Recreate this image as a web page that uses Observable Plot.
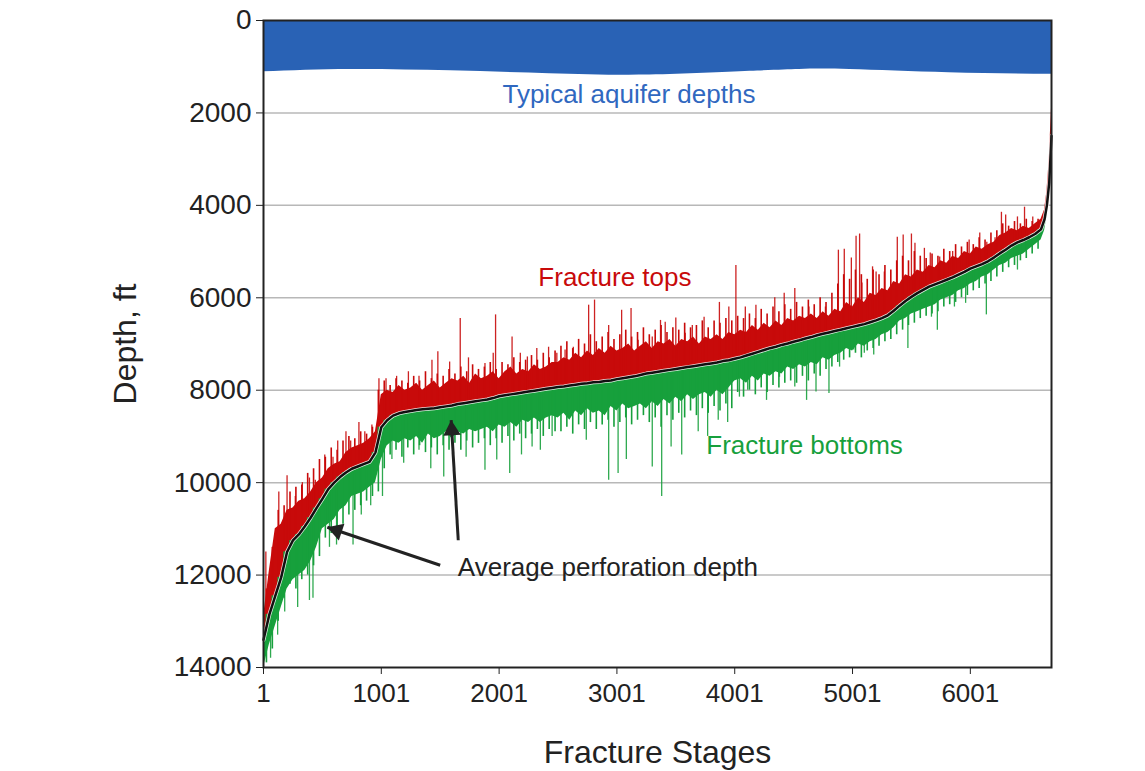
<!DOCTYPE html>
<html><head><meta charset="utf-8">
<script src="https://cdn.jsdelivr.net/npm/d3@7"></script>
<script src="https://cdn.jsdelivr.net/npm/@observablehq/plot@0.6"></script>
<style>body{margin:0;background:#fff;} #chart svg{display:block;}</style>
</head><body><div id="chart"></div>
<script>
// ---- Data ----
const stages = [
  1,51,101,151,201,251,301,351,401,451,501,551,601,651,701,751,801,851,901,951,
  1001,1051,1101,1151,1201,1251,1301,1351,1401,1451,1501,1551,1601,1651,1701,1751,1801,1851,1901,1951,
  2001,2051,2101,2151,2201,2251,2301,2351,2401,2451,2501,2551,2601,2651,2701,2751,2801,2851,2901,2951,
  3001,3051,3101,3151,3201,3251,3301,3351,3401,3451,3501,3551,3601,3651,3701,3751,3801,3851,3901,3951,
  4001,4051,4101,4151,4201,4251,4301,4351,4401,4451,4501,4551,4601,4651,4701,4751,4801,4851,4901,4951,
  5001,5051,5101,5151,5201,5251,5301,5351,5401,5451,5501,5551,5601,5651,5701,5751,5801,5851,5901,5951,
  6001,6051,6101,6151,6201,6251,6301,6351,6401,6451,6501,6551,6601,6631,6651,6671,6690
];
const avgDepth = [
  13400,12850,12450,12050,11500,11250,11120,10950,10760,10550,10350,10140,10000,9880,9780,9700,9650,9600,9550,9350,
  8800,8650,8550,8500,8470,8450,8430,8410,8400,8390,8370,8350,8330,8300,8280,8260,8240,8220,8200,8170,
  8130,8110,8090,8070,8050,8030,8010,7990,7970,7950,7930,7920,7900,7880,7860,7850,7830,7820,7800,7790,
  7760,7740,7720,7700,7670,7640,7620,7600,7580,7560,7540,7520,7500,7480,7460,7440,7420,7400,7370,7350,
  7320,7290,7250,7210,7170,7130,7090,7060,7020,6990,6950,6920,6880,6850,6810,6780,6750,6720,6690,6660,
  6630,6600,6570,6530,6490,6440,6380,6280,6170,6070,5980,5900,5830,5760,5710,5660,5610,5560,5500,5440,
  5370,5320,5270,5210,5130,5040,4960,4870,4800,4750,4690,4620,4520,4300,4000,3500,2500
];
const topDepth = [
  12900,11900,11000,10900,10600,10550,10400,10350,10200,10000,9900,9700,9600,9550,9350,9250,9200,9150,9050,8900,
  8100,8000,8050,7900,8000,7950,7850,8000,7900,7800,7950,7850,7750,7800,7700,7850,7650,7750,7700,7600,
  7750,7600,7500,7650,7550,7600,7450,7550,7500,7400,7400,7300,7350,7200,7300,7150,7250,7100,7200,7050,
  7150,7100,7000,7150,7050,6950,7100,6950,7000,6900,7050,6900,6950,6850,7000,6850,6900,6800,6900,6750,
  6800,6700,6750,6600,6700,6550,6650,6500,6600,6450,6500,6400,6450,6350,6450,6300,6400,6250,6300,6100,
  6200,6000,6100,5900,5950,5800,5850,5650,5700,5500,5550,5400,5450,5300,5350,5200,5250,5100,5150,5000,
  5050,4900,4950,4850,4800,4650,4600,4500,4550,4450,4500,4400,4300,4100,3700,3000,1900
];
const bottomDepth = [
  14000,13500,13100,12700,12300,12100,12000,11900,11700,11400,11000,10900,10800,10600,10500,10300,10250,10200,10100,10000,
  9500,9200,9100,9150,9050,9100,9000,9150,8950,9050,9000,8900,9050,8900,8950,8850,8900,8850,8800,8900,
  8750,8800,8700,8800,8650,8700,8600,8700,8600,8550,8600,8500,8650,8450,8550,8400,8500,8450,8550,8350,
  8450,8300,8400,8350,8300,8400,8250,8350,8200,8300,8150,8250,8100,8200,8100,8050,8150,8000,8100,7950,
  7800,7750,7850,7700,7800,7650,7700,7600,7650,7500,7550,7450,7500,7400,7450,7300,7350,7250,7200,7100,
  7150,7000,7050,6950,6900,6800,6750,6650,6500,6450,6350,6300,6250,6200,6150,6050,6000,5950,5850,5800,
  5700,5650,5550,5500,5400,5300,5250,5150,5100,5050,4950,4850,4750,4550,4250,3800,2400
];
// medium spikes between the grid stages
const minorStages = [
  26,76,126,176,226,276,326,376,426,476,526,576,626,676,726,776,826,876,926,976,
  1026,1076,1126,1176,1226,1276,1326,1376,1426,1476,1526,1576,1626,1676,1726,1776,1826,1876,1926,1976,
  2026,2076,2126,2176,2226,2276,2326,2376,2426,2476,2526,2576,2626,2676,2726,2776,2826,2876,2926,2976,
  3026,3076,3126,3176,3226,3276,3326,3376,3426,3476,3526,3576,3626,3676,3726,3776,3826,3876,3926,3976,
  4026,4076,4126,4176,4226,4276,4326,4376,4426,4476,4526,4576,4626,4676,4726,4776,4826,4876,4926,4976,
  5026,5076,5126,5176,5226,5276,5326,5376,5426,5476,5526,5576,5626,5676,5726,5776,5826,5876,5926,5976,
  6026,6076,6126,6176,6226,6276,6326,6376,6426,6476,6526,6576
];
const topMinor = [
  12300,11400,10600,10500,10200,10100,10050,9800,9700,9500,9450,9250,9300,9100,9000,9050,8900,8950,8800,8000,
  7800,7900,7750,7800,7850,7700,7800,7600,7750,7650,7700,7550,7650,7500,7600,7450,7550,7500,7400,7550,
  7400,7450,7300,7400,7350,7250,7350,7200,7300,7150,7050,6950,7100,6900,7000,6800,6950,6850,6750,6900,
  6800,6700,6850,6750,6650,6800,6700,6600,6750,6650,6700,6550,6650,6600,6500,6650,6500,6550,6450,6500,
  6400,6450,6350,6450,6250,6350,6200,6300,6150,6250,6100,6200,6050,6150,6000,6100,5900,5700,5500,5600,
  5400,5500,5600,5400,5500,5300,5400,5200,5100,5200,5000,5100,5150,5050,5100,4950,5000,4850,4900,4800,
  4850,4700,4750,4600,4550,4400,4450,4350,4400,4300,4350,4300
];
const bottomMinor = [
  13900,13600,13000,12500,12200,12300,12100,12000,11800,11600,11200,11100,11000,10900,10700,10600,10500,10400,10300,10200,
  9700,9400,9300,9450,9250,9400,9200,9350,9250,9400,9200,9300,9150,9300,9100,9250,9150,9050,9200,9050,
  9150,9000,9100,8950,9050,8950,8850,9000,8850,8900,8900,8800,8950,8750,8850,8700,8850,8750,8650,8800,
  8700,8600,8750,8650,8550,8700,8600,8800,8550,8650,8500,8600,8450,8550,8400,8500,8350,8450,8300,8400,
  8050,8150,8000,8100,7950,8050,7900,7950,7850,7800,7850,7700,7800,7650,7700,7550,7500,7400,7350,7300,
  7200,7300,7150,7100,7050,6950,6900,6800,6700,6600,6550,6450,6400,6350,6300,6200,6150,6100,6000,5950,
  5850,5800,5700,5650,5550,5450,5350,5300,5200,5150,5050,4950
];
// isolated tall spikes: [stage, depth]
const topSpikes = [
  [21,11500],[71,11700],[131,10200],[201,9850],[271,10300],[331,10000],[391,9900],[441,9950],[521,9400],[591,9450],
  [631,9100],[701,8900],[741,9100],[811,8700],[861,8900],[921,8750],[981,7750],
  [1041,7750],[1131,7700],[1231,7600],[1321,7700],[1431,7350],[1481,7170],[1581,7390],[1671,6450],[1741,7300],
  [1881,7420],[1951,7200],[1971,6370],[2111,6850],[2181,7200],[2241,7280],[2321,7100],[2421,7070],[2491,7200],
  [2561,7130],[2631,7070],[2761,6160],[2811,6050],[2931,6600],[3041,6270],[3121,6230],[3181,6920],[3301,6850],
  [3371,6490],[3411,6530],[3501,6440],[3581,6770],[3641,6600],[3741,6420],[3871,6100],[3951,6200],[4011,5300],
  [4091,6200],[4181,6160],[4341,6000],[4421,5900],[4511,5800],[4631,6200],[4771,6200],[4881,4970],[4931,4950],
  [4991,5140],[5031,4670],[5061,4620],[5081,5680],[5171,5330],[5201,5440],[5271,5440],[5381,4690],[5431,4640],
  [5501,4620],[5531,4820],[5611,4930],[5661,5030],[5741,5120],[5851,5000],[5991,4750],[6081,4600],[6141,4800],
  [6211,4700],[6265,4150],[6301,4210],[6401,4250],[6461,4040],[6531,4250],[6581,4350]
];
const bottomSpikes = [
  [61,13800],[121,13300],[181,12800],[291,12700],[391,12550],[421,12500],[561,11400],[621,11350],[761,11350],
  [831,10700],[911,10500],[1011,10300],[1091,9500],[1191,9580],[1321,9300],[1421,9700],[1531,9880],[1721,9450],
  [1881,9730],[1981,9510],[2091,9800],[2191,9400],[2281,9230],[2351,9300],[2451,9000],[2741,9080],[2931,9950],
  [3011,9800],[3081,9500],[3301,9660],[3381,10300],[3461,9230],[3551,9400],[3691,8900],[3771,9000],[3861,8650],
  [3941,8700],[4041,8150],[4111,8000],[4271,8220],[4381,7720],[4511,7930],[4611,8220],[4691,8040],[4801,8070],
  [4891,7500],[5011,7130],[5101,7200],[5181,7240],[5471,7100],[5671,6420],[5721,6700],[5866,6200],[5961,6120],
  [6137,6370],[6401,5400],[6476,5030]
];
const aquiferStages = [1,740,1590,2430,3280,4130,4550,4980,5820,6690];
const aquiferBottom = [1110,1060,1090,1150,1180,1100,1060,1060,1130,1165];
const xTicks = [1,1001,2001,3001,4001,5001,6001];
const yTicks = [0,2000,4000,6000,8000,10000,12000,14000];
const labelTexts = ["Typical aquifer depths","Fracture tops","Fracture bottoms","Average perforation depth"];
const labelStages = [3103,2984,4594,2925];
const labelDepths = [1613,5575,9190,11830];
const arrowFromStages = [1501,1654];
const arrowFromDepths = [11788,11247];
const arrowToStages = [543,1594];
const arrowToDepths = [10966,8649];

// ---- Layout ----
const W = 1145, H = 771, mT = 20, mB = 104, mL = 263, mR = 94;
const xDomain = [1, 6690], yDomain = [0, 14000];

// ---- Build tables ----
const rows = stages.map((s,i)=>({stage:s, avg:avgDepth[i], top:topDepth[i], bottom:bottomDepth[i]}));
const bis = d3.bisector(d=>d.stage).center;
const avgAt = s => rows[bis(rows, s)].avg;
const topSp = topSpikes.map(([s,d])=>({stage:s, depth:d, base:avgAt(s)}));
const botSp = bottomSpikes.map(([s,d])=>({stage:s, depth:d, base:avgAt(s)}));
const topMin = minorStages.map((s,i)=>({stage:s, depth:topMinor[i], base:avgAt(s)}));
const botMin = minorStages.map((s,i)=>({stage:s, depth:bottomMinor[i], base:avgAt(s)}));
const aquifer = aquiferStages.map((s,i)=>({stage:s, depth:aquiferBottom[i]}));
const labels = labelTexts.map((t,i)=>({text:t, stage:labelStages[i], depth:labelDepths[i]}));
const arrows = arrowFromStages.map((s,i)=>({x1:s, y1:arrowFromDepths[i], x2:arrowToStages[i], y2:arrowToDepths[i]}));

// arrow-head orientation in screen space (same scales as the plot)
const xs = d3.scaleLinear(xDomain, [mL, W - mR]);
const ys = d3.scaleLinear(yDomain, [mT, H - mB]);
const HEAD_R = 6.5, TIP = 10;
arrows.forEach(a => {
  const dx = xs(a.x2) - xs(a.x1), dy = ys(a.y2) - ys(a.y1), L = Math.hypot(dx, dy);
  a.angle = Math.atan2(dx, -dy) * 180 / Math.PI;
  a.ox = -dx / L * TIP; a.oy = -dy / L * TIP;
});

const RED = "#c80a0a", GREEN = "#17a03c", BLUE = "#2962b5", INK = "#222";
const font = "'Liberation Sans', Arial, Helvetica, sans-serif";

const chart = Plot.plot({
  width: W, height: H,
  marginTop: mT, marginBottom: mB, marginLeft: mL, marginRight: mR,
  style: {fontFamily: font, background: "#fff", color: INK},
  x: {domain: xDomain, label: null},
  y: {domain: yDomain, reverse: true, label: null},
  marks: [
    Plot.gridY(yTicks.slice(1, -1), {stroke: "#b8b8b8", strokeOpacity: 1, strokeWidth: 1.5}),
    Plot.areaY(aquifer, {x: "stage", y1: 0, y2: "depth", fill: BLUE, curve: "natural"}),
    Plot.areaY(rows, {x: "stage", y1: "top", y2: "avg", fill: RED}),
    Plot.ruleX(topMin, {x: "stage", y1: "depth", y2: "base", stroke: RED, strokeWidth: 1.6}),
    Plot.ruleX(topSp, {x: "stage", y1: "depth", y2: "base", stroke: RED, strokeWidth: 1.3, strokeOpacity: 0.9}),
    Plot.areaY(rows, {x: "stage", y1: "avg", y2: "bottom", fill: GREEN}),
    Plot.ruleX(botMin, {x: "stage", y1: "base", y2: "depth", stroke: GREEN, strokeWidth: 1.6}),
    Plot.ruleX(botSp, {x: "stage", y1: "base", y2: "depth", stroke: GREEN, strokeWidth: 1.3, strokeOpacity: 0.9}),
    Plot.line(rows, {x: "stage", y: "avg", stroke: "#fff", strokeWidth: 4, strokeOpacity: 0.85}),
    Plot.line(rows, {x: "stage", y: "avg", stroke: "#111", strokeWidth: 2.5}),
    Plot.axisX({ticks: xTicks, tickFormat: d3.format("d"), fontSize: 26, tickSize: 7, tickPadding: 9, stroke: INK, label: null}),
    Plot.axisY({ticks: yTicks, tickFormat: d3.format("d"), fontSize: 28, tickSize: 7, tickPadding: 5, stroke: INK, label: null}),
    Plot.frame({stroke: INK, strokeWidth: 2}),
    Plot.text(labels.slice(0,1), {x: "stage", y: "depth", text: "text", fill: "#3068c0", fontSize: 26}),
    Plot.text(labels.slice(1,2), {x: "stage", y: "depth", text: "text", fill: RED, fontSize: 26}),
    Plot.text(labels.slice(2,3), {x: "stage", y: "depth", text: "text", fill: GREEN, fontSize: 26}),
    Plot.text(labels.slice(3,4), {x: "stage", y: "depth", text: "text", fill: INK, fontSize: 26}),
    Plot.link(arrows, {x1: "x1", y1: "y1", x2: "x2", y2: "y2", stroke: INK, strokeWidth: 3}),
    Plot.dot(arrows.slice(0,1), {x: "x2", y: "y2", symbol: "triangle", r: HEAD_R, fill: INK, stroke: "none", rotate: "angle", dx: arrows[0].ox, dy: arrows[0].oy}),
    Plot.dot(arrows.slice(1,2), {x: "x2", y: "y2", symbol: "triangle", r: HEAD_R, fill: INK, stroke: "none", rotate: "angle", dx: arrows[1].ox, dy: arrows[1].oy}),
    Plot.text(["Fracture Stages"], {frameAnchor: "bottom", dy: 85, fontSize: 32, fill: INK, lineAnchor: "middle"}),
    Plot.text(["Depth, ft"], {frameAnchor: "left", dx: -138, rotate: -90, fontSize: 32, fill: INK, textAnchor: "middle", lineAnchor: "middle"})
  ]
});
document.getElementById("chart").append(chart);
</script>
</body></html>
